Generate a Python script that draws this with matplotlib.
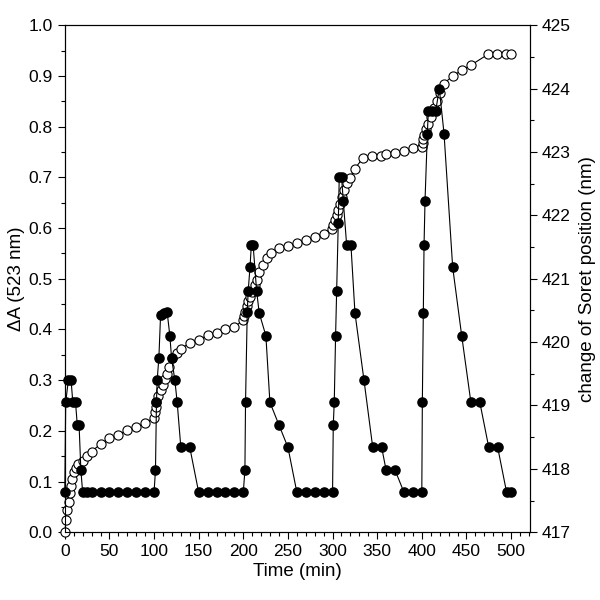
import matplotlib
matplotlib.use("Agg")
import matplotlib.pyplot as plt
from matplotlib.ticker import MultipleLocator

plt.rcParams['font.family'] = ['Liberation Sans', 'DejaVu Sans']

# open circles: delta A at 523 nm (left axis)
abs_time = [0, 1.5, 3, 4.5, 5.5, 6.5, 8, 10, 12, 15, 20, 25, 30, 40, 50, 60, 70, 80, 90,
            100, 100.9, 101.7, 102.7, 104.6, 107.3, 109.5, 112.1, 114.7, 117, 120.3, 125.2,
            130, 140, 150, 160, 170, 180, 190,
            200, 200.7, 201.8, 203.7, 205.5, 207.4, 210, 213, 215, 217.8, 221.6, 226.1, 230.6,
            240, 250, 260, 270, 280, 290, 299,
            300.8, 302.8, 304.6, 306.4, 308.3, 310.2, 312.8, 315.8, 319.5, 325, 334.4, 343.8,
            353.9, 360, 370, 380, 390,
            400, 401, 401.7, 402.8, 404.7, 407.3, 410, 413.7, 416.7, 420.4, 424.9, 434.6, 444.7,
            454.8, 474.6, 484.7, 494.4, 499.6]
delta_a = [0.0, 0.024, 0.043, 0.06, 0.077, 0.092, 0.105, 0.118, 0.127, 0.135, 0.141, 0.15, 0.159,
           0.174, 0.185, 0.192, 0.201, 0.207, 0.215,
           0.226, 0.237, 0.247, 0.257, 0.268, 0.28, 0.291, 0.302, 0.313, 0.325, 0.343, 0.354,
           0.362, 0.373, 0.38, 0.388, 0.393, 0.4, 0.405,
           0.418, 0.426, 0.435, 0.446, 0.456, 0.464, 0.474, 0.487, 0.497, 0.513, 0.527, 0.54, 0.55,
           0.56, 0.564, 0.571, 0.577, 0.582, 0.589, 0.599,
           0.606, 0.615, 0.625, 0.635, 0.648, 0.661, 0.675, 0.688, 0.698, 0.717, 0.739, 0.742,
           0.742, 0.746, 0.748, 0.751, 0.758,
           0.759, 0.767, 0.775, 0.783, 0.796, 0.806, 0.818, 0.836, 0.851, 0.867, 0.885, 0.9, 0.911,
           0.921, 0.943, 0.944, 0.944, 0.944]

# filled circles: Soret band position (right axis)
soret_time = [0, 1, 4, 7, 9, 12, 14, 16, 18, 20, 25, 30, 40, 50, 60, 70, 80, 90,
              100, 101.6, 102.7, 103.5, 105.4, 107.3, 111, 114.7, 117.7, 119.6, 123.3, 125.9,
              130, 140, 150, 160, 170, 180, 190,
              200, 201.8, 202.5, 204.4, 205.5, 207.5, 209, 211, 214.9, 217.8, 225.3, 229.8,
              240, 250, 260, 270, 280, 290,
              300, 300.8, 301.9, 303.4, 304.6, 306.4, 307.5, 310.1, 312, 315.8, 320.6, 325.1,
              335.2, 345, 355, 360, 370, 380, 390,
              400, 400.6, 401.7, 402.5, 403.6, 406.2, 407.3, 411.1, 415.5, 419.6, 424.9, 434.6,
              444.7, 455, 465, 475, 485, 495, 500]
soret_pos = [417.63, 419.05, 419.4, 419.4, 419.05, 419.05, 418.69, 418.69, 417.98, 417.63,
             417.63, 417.63, 417.63, 417.63, 417.63, 417.63, 417.63, 417.63,
             417.63, 417.98, 419.05, 419.4, 419.75, 420.42, 420.46, 420.47, 420.1, 419.75, 419.4,
             419.05, 418.34, 418.34, 417.63, 417.63, 417.63, 417.63, 417.63,
             417.63, 417.98, 419.05, 420.47, 420.81, 421.18, 421.53, 421.53, 420.81, 420.46, 420.1,
             419.05, 418.69, 418.34, 417.63, 417.63, 417.63, 417.63,
             417.63, 418.69, 419.05, 420.1, 420.81, 421.88, 422.6, 422.6, 422.23, 421.53, 421.53,
             420.46, 419.4, 418.34, 418.34, 417.98, 417.98, 417.63, 417.63,
             417.63, 419.05, 420.46, 421.53, 422.23, 423.29, 423.64, 423.64, 423.64, 424.0, 423.29,
             421.18, 420.1, 419.05, 419.05, 418.34, 418.34, 417.63, 417.63]

fig = plt.figure(figsize=(6, 6), dpi=100)
ax = fig.add_axes([0.108, 0.113, 0.775, 0.845])
ax2 = ax.twinx()

ax.plot(abs_time, delta_a, '-o', color='black', lw=0.8, ms=6.6, clip_on=False,
        markerfacecolor='white', markeredgecolor='black', markeredgewidth=0.8, zorder=3)
ax2.plot(soret_time, soret_pos, '-o', color='black', lw=0.8, ms=6.6, clip_on=False,
         markerfacecolor='black', markeredgecolor='black', zorder=3)

ax.set_xlim(0, 521)
ax.set_ylim(0, 1.0)
ax2.set_ylim(417, 425)

ax.xaxis.set_major_locator(MultipleLocator(50))
ax.xaxis.set_minor_locator(MultipleLocator(10))
ax.yaxis.set_major_locator(MultipleLocator(0.1))
ax.yaxis.set_minor_locator(MultipleLocator(0.05))
ax2.yaxis.set_major_locator(MultipleLocator(1))
ax2.yaxis.set_minor_locator(MultipleLocator(0.5))
ax.yaxis.set_major_formatter(plt.FormatStrFormatter('%.1f'))

for a in (ax, ax2):
    for s in a.spines.values():
        s.set_linewidth(0.8)
    a.tick_params(which='major', length=5, width=0.8, labelsize=12.5, direction='out')
    a.tick_params(which='minor', length=3, width=0.8, direction='out')

ax.set_xlabel("Time (min)", fontsize=13.5, labelpad=3)
ax.set_ylabel("ΔA (523 nm)", fontsize=13.5, labelpad=3)
ax2.set_ylabel("change of Soret position (nm)", fontsize=13.5, labelpad=6)

fig.savefig("out.png", dpi=100)
